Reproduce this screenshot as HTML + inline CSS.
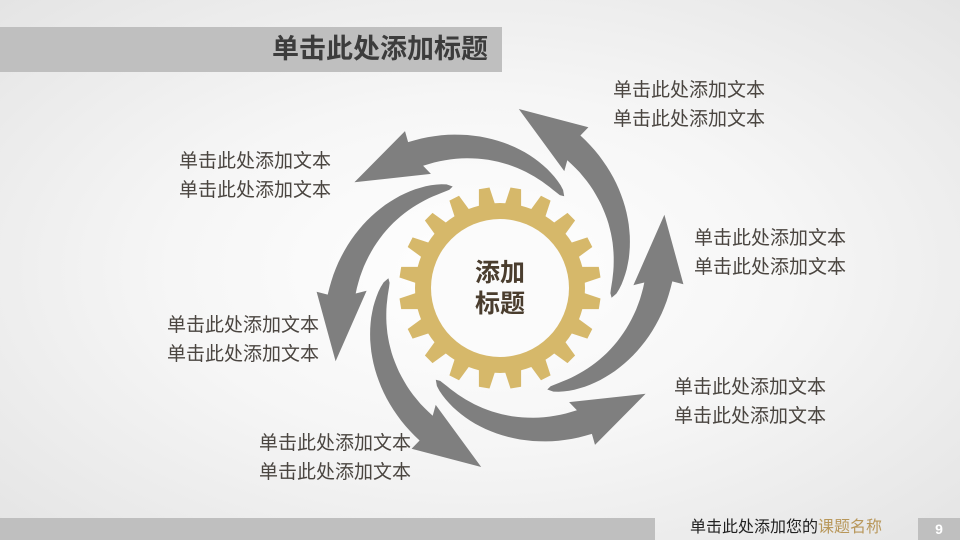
<!DOCTYPE html>
<html><head><meta charset="utf-8"><style>
body{margin:0;width:960px;height:540px;overflow:hidden;position:relative;font-family:"Liberation Sans","Noto Sans CJK SC",sans-serif;background:radial-gradient(ellipse at 50% 50%,#ffffff 0%,#f6f6f6 45%,#e4e4e4 100%);}
.t{position:absolute;font-size:19px;color:#4a4540;line-height:29px;white-space:nowrap}
</style></head><body>
<div style="position:absolute;left:0;top:27px;width:502px;height:45px;background:#bfbfbf"></div>
<div style="position:absolute;left:0;top:27px;width:488px;height:45px;line-height:45px;text-align:right;font-size:27px;font-weight:bold;color:#3c3c3c">单击此处添加标题</div>
<svg id="s" width="960" height="540" style="position:absolute;left:0;top:0"></svg>
<div style="position:absolute;left:440px;top:258px;width:120px;text-align:center;font-size:25px;font-weight:bold;color:#4a3d2e;line-height:31px">添加<br>标题</div>
<div class="t" style="left:613px;top:76px">单击此处添加文本<br>单击此处添加文本</div>
<div class="t" style="left:179px;top:147px">单击此处添加文本<br>单击此处添加文本</div>
<div class="t" style="left:694px;top:224px">单击此处添加文本<br>单击此处添加文本</div>
<div class="t" style="left:167px;top:311px">单击此处添加文本<br>单击此处添加文本</div>
<div class="t" style="left:674px;top:373px">单击此处添加文本<br>单击此处添加文本</div>
<div class="t" style="left:259px;top:429px">单击此处添加文本<br>单击此处添加文本</div>
<div style="position:absolute;left:0;top:518px;width:655px;height:22px;background:#bfbfbf"></div>
<div style="position:absolute;left:690px;top:517px;height:22px;line-height:22px;font-size:16px;color:#222">单击此处添加您的<span style="color:#b8975a">课题名称</span></div>
<div style="position:absolute;left:918px;top:518px;width:42px;height:22px;line-height:22px;background:#bfbfbf;color:#fff;font-size:14px;font-weight:bold;text-align:center">9</div>
<script>
var s=document.getElementById('s'),cx=500,cy=288,d2r=Math.PI/180,h='';
function P(r,a){return (cx+r*Math.cos(a*d2r)).toFixed(1)+','+(cy+r*Math.sin(a*d2r)).toFixed(1);}
var n=20,g='';
for(var i=0;i<n;i++){var a=i*360/n,st=360/n;
 g+=(i?'L':'M')+P(85,a)+'L'+P(85,a+st*0.2)+'L'+P(101,a+st*0.33)+'L'+P(101,a+st*0.67)+'L'+P(85,a+st*0.8);}
h+='<path d="'+g+'Z" fill="#d6b86a"/><circle cx="500" cy="288" r="69" fill="#fbfbfb"/>';
for(var k=0;k<6;k++){var a0=5+k*60,L=[],R=[],N=30,tb=0.8;
 for(var j=0;j<=N;j++){var t=tb*j/N,a=a0-t*84,r=112+t*58,w=14*Math.pow(t/tb,0.45);
  L.push(P(r-w,a));R.push(P(r+w,a));}
 var ab=a0-tb*84,rb=112+tb*58;
 var p='M'+L.join('L')+'L'+P(rb-25,ab+1)+'L'+P(180,a0-89)+'L'+P(rb+25,ab+1)+'L'+R.reverse().join('L')+'Z';
 h+='<path d="'+p+'" fill="#7f7f7f"/>';}
s.innerHTML=h;
</script>
</body></html>
